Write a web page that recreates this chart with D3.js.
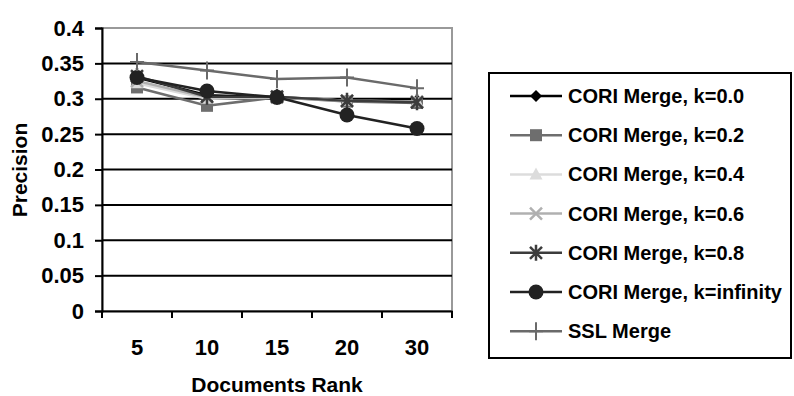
<!DOCTYPE html>
<html><head><meta charset="utf-8">
<script src="https://cdn.jsdelivr.net/npm/d3@7"></script>
<style>body{margin:0;background:#fff}svg{display:block}text{font-family:"Liberation Sans",Arial,sans-serif;font-weight:bold}</style>
</head><body><svg id="c" width="794" height="396"></svg>
<script>
const categories = ["5","10","15","20","30"];
const seriesNames = ["CORI Merge, k=0.0","CORI Merge, k=0.2","CORI Merge, k=0.4","CORI Merge, k=0.6","CORI Merge, k=0.8","CORI Merge, k=infinity","SSL Merge"];
const k00 = [0.330,0.305,0.302,0.298,0.298];
const k02 = [0.316,0.290,0.302,0.296,0.294];
const k04 = [0.322,0.300,0.302,0.297,0.296];
const k06 = [0.325,0.302,0.302,0.297,0.296];
const k08 = [0.332,0.303,0.303,0.297,0.295];
const kInf = [0.330,0.311,0.302,0.277,0.258];
const ssl = [0.352,0.340,0.328,0.330,0.315];
const yTicks = [0,0.05,0.1,0.15,0.2,0.25,0.3,0.35,0.4];
const yTickLabels = ["0","0.05","0.1","0.15","0.2","0.25","0.3","0.35","0.4"];

const seriesValues = [k00,k02,k04,k06,k08,kInf,ssl];
const colors = ["#000","#6e6e6e","#dcdcdc","#b0b0b0","#3c3c3c","#222","#6a6a6a"];
const shapes = ["diamond","square","triangle","x","asterisk","circle","plus"];

const svg = d3.select("#c");
const L=102,R=452,T=28,B=311;
const x = d3.scaleBand().domain(categories).range([L,R]);
const y = d3.scaleLinear().domain([0,0.4]).range([B,T]);
const FONT = "Liberation Sans, Arial, sans-serif";

// plot border (gray)
svg.append("rect").attr("x",L).attr("y",T).attr("width",R-L).attr("height",B-T)
  .attr("fill","none").attr("stroke","#999").attr("stroke-width",2);
// gridlines
svg.append("g").selectAll("line").data(yTicks.filter(d=>d>0&&d<0.4)).join("line")
  .attr("x1",L).attr("x2",R).attr("y1",d=>y(d)).attr("y2",d=>y(d))
  .attr("stroke","#000").attr("stroke-width",2);

// y axis
const ya = svg.append("g").attr("transform",`translate(${L},0)`)
  .call(d3.axisLeft(y).tickValues(yTicks).tickFormat((d,i)=>yTickLabels[i]).tickSize(7).tickPadding(11));
ya.select(".domain").attr("stroke","#000").attr("stroke-width",2);
ya.selectAll(".tick line").attr("stroke","#000").attr("stroke-width",2);
ya.selectAll("text").attr("font-size",22).attr("fill","#000").attr("font-family",FONT).attr("font-weight","bold");

// x axis
const xa = svg.append("g").attr("transform",`translate(0,${B})`)
  .call(d3.axisBottom(x).tickSize(0).tickPadding(28));
xa.select(".domain").attr("stroke","#000").attr("stroke-width",2);
xa.selectAll("text").attr("font-size",22).attr("fill","#000").attr("font-family",FONT).attr("font-weight","bold");
// category boundary ticks
const bounds = categories.map(c=>x(c)).concat([R]);
svg.append("g").selectAll("line").data(bounds).join("line")
  .attr("x1",d=>d).attr("x2",d=>d).attr("y1",B).attr("y2",B+7)
  .attr("stroke","#000").attr("stroke-width",2);

// axis titles
svg.append("text").attr("x",(L+R)/2).attr("y",392).attr("text-anchor","middle")
  .attr("font-size",21).text("Documents Rank");
svg.append("text").attr("transform","translate(27,170) rotate(-90)").attr("text-anchor","middle")
  .attr("font-size",21).text("Precision");

function marker(g, shape, color, cx, cy){
  const s = g.append("g").attr("transform",`translate(${cx},${cy})`);
  if(shape==="diamond") s.append("path").attr("d","M0,-6L6,0L0,6L-6,0Z").attr("fill",color);
  else if(shape==="square") s.append("rect").attr("x",-6).attr("y",-6).attr("width",12).attr("height",12).attr("fill",color);
  else if(shape==="triangle") s.append("path").attr("d","M0,-7L6.5,5L-6.5,5Z").attr("fill",color);
  else if(shape==="x") s.append("path").attr("d","M-6,-6L6,6M6,-6L-6,6").attr("stroke",color).attr("stroke-width",2.5);
  else if(shape==="asterisk") s.append("path").attr("d","M-6,-6L6,6M6,-6L-6,6M0,-8L0,8").attr("stroke",color).attr("stroke-width",2.5);
  else if(shape==="circle") s.append("circle").attr("r",7.5).attr("fill",color);
  else if(shape==="plus") s.append("path").attr("d","M-7,0L7,0M0,-9L0,9").attr("stroke",color).attr("stroke-width",2);
}

const line = d3.line().x((d,i)=>x(categories[i])+x.bandwidth()/2).y(d=>y(d));
seriesValues.forEach((vals,si)=>{
  const g = svg.append("g");
  g.append("path").attr("d",line(vals)).attr("fill","none").attr("stroke",colors[si]).attr("stroke-width",2.5);
  vals.forEach((v,i)=>marker(g,shapes[si],colors[si],x(categories[i])+x.bandwidth()/2,y(v)));
});

// legend
const lg = svg.append("g");
lg.append("rect").attr("x",489).attr("y",73).attr("width",302).attr("height",285)
  .attr("fill","#fff").attr("stroke","#000").attr("stroke-width",2);
seriesNames.forEach((n,i)=>{
  const cy = 96 + i*39.2;
  lg.append("line").attr("x1",510).attr("x2",562).attr("y1",cy).attr("y2",cy).attr("stroke",colors[i]).attr("stroke-width",2.5);
  marker(lg,shapes[i],colors[i],536,cy);
  lg.append("text").attr("x",568).attr("y",cy+7).attr("font-size",20).text(n);
});
</script></body></html>
